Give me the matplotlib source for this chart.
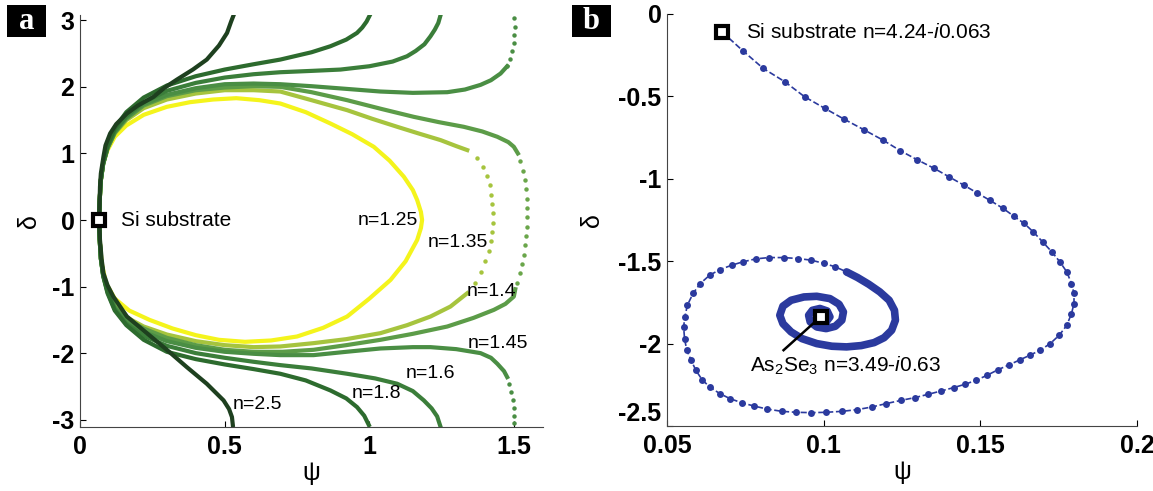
import matplotlib.pyplot as plt
from matplotlib.patches import Rectangle

plt.rcParams['font.family'] = ['Liberation Sans', 'DejaVu Sans']
plt.rcParams['mathtext.fontset'] = 'custom'
plt.rcParams['mathtext.rm'] = 'Liberation Sans'
plt.rcParams['mathtext.it'] = 'Liberation Sans:italic'
plt.rcParams['axes.unicode_minus'] = False

# ---- panel a: psi/delta trajectories for film index n ----
n125_psi = [0.066, 0.068, 0.072, 0.080, 0.095, 0.120, 0.160, 0.220, 0.300, 0.380, 0.460,
            0.540, 0.620, 0.692, 0.780, 0.865, 0.940, 1.015, 1.070, 1.119, 1.150, 1.165,
            1.178, 1.182, 1.178, 1.165, 1.125, 1.073, 1.000, 0.923, 0.840, 0.750, 0.660,
            0.570, 0.480, 0.400, 0.320, 0.240, 0.170, 0.120, 0.090, 0.075, 0.068, 0.066]
n125_delta = [0.0, 0.30, 0.60, 0.85, 1.05, 1.25, 1.42, 1.58, 1.70, 1.77, 1.81,
              1.83, 1.80, 1.75, 1.62, 1.45, 1.29, 1.10, 0.89, 0.65, 0.45, 0.30,
              0.12, 0.0, -0.12, -0.30, -0.62, -0.90, -1.18, -1.45, -1.62, -1.75, -1.81,
              -1.83, -1.80, -1.73, -1.63, -1.50, -1.36, -1.18, -0.95, -0.65, -0.30, 0.0]

n135_psi = [0.066, 0.068, 0.072, 0.080, 0.095, 0.120, 0.160, 0.220, 0.300, 0.400, 0.500,
            0.600, 0.692, 0.800, 0.923, 1.010, 1.096, 1.170, 1.246, 1.300, 1.338]
n135_delta = [0.0, 0.30, 0.60, 0.85, 1.08, 1.30, 1.50, 1.68, 1.81, 1.90, 1.95,
              1.95, 1.93, 1.80, 1.65, 1.52, 1.40, 1.30, 1.20, 1.11, 1.05]
n135_dots_psi = [1.373, 1.393, 1.405, 1.415, 1.421, 1.425, 1.427, 1.427, 1.425, 1.420,
                 1.412, 1.400, 1.385, 1.365]
n135_dots_delta = [0.93, 0.80, 0.66, 0.52, 0.38, 0.24, 0.10, -0.04, -0.18, -0.32,
                   -0.46, -0.62, -0.78, -0.94]
n135_low_psi = [1.338, 1.280, 1.211, 1.130, 1.038, 0.920, 0.807, 0.692, 0.600, 0.500,
                0.400, 0.300, 0.220, 0.160, 0.120, 0.095, 0.080, 0.072, 0.068, 0.066]
n135_low_delta = [-1.10, -1.30, -1.45, -1.58, -1.70, -1.79, -1.85, -1.90, -1.91, -1.88,
                  -1.82, -1.72, -1.60, -1.46, -1.28, -1.05, -0.82, -0.58, -0.30, 0.0]

n140_psi = [0.066, 0.068, 0.072, 0.080, 0.095, 0.120, 0.160, 0.220, 0.300, 0.400, 0.500,
            0.600, 0.692, 0.800, 0.923, 1.040, 1.153, 1.240, 1.326, 1.390, 1.442, 1.480,
            1.499, 1.513]
n140_delta = [0.0, 0.30, 0.60, 0.85, 1.08, 1.31, 1.52, 1.72, 1.86, 1.95, 1.99,
              2.01, 2.00, 1.92, 1.80, 1.67, 1.55, 1.47, 1.40, 1.33, 1.25, 1.17,
              1.10, 1.00]
n140_dots_psi = [1.522, 1.530, 1.536, 1.540, 1.543, 1.544, 1.545, 1.544, 1.542, 1.538,
                 1.533, 1.527, 1.519, 1.510]
n140_dots_delta = [0.88, 0.74, 0.60, 0.46, 0.32, 0.18, 0.04, -0.10, -0.24, -0.38,
                   -0.52, -0.66, -0.80, -0.94]
n140_low_psi = [1.504, 1.499, 1.470, 1.430, 1.360, 1.269, 1.150, 1.038, 0.920, 0.807,
                0.700, 0.600, 0.500, 0.400, 0.300, 0.220, 0.160, 0.120, 0.095, 0.080,
                0.072, 0.068, 0.066]
n140_low_delta = [-1.04, -1.15, -1.26, -1.35, -1.47, -1.60, -1.71, -1.80, -1.88, -1.95,
                  -1.98, -1.98, -1.95, -1.88, -1.77, -1.63, -1.48, -1.30, -1.06, -0.82,
                  -0.58, -0.30, 0.0]

n145_dots_top_psi = [1.499, 1.502, 1.501, 1.498, 1.493, 1.486, 1.476]
n145_dots_top_delta = [3.03, 2.90, 2.78, 2.66, 2.54, 2.42, 2.31]
n145_psi = [1.476, 1.453, 1.420, 1.384, 1.330, 1.269, 1.150, 1.038, 0.920, 0.800, 0.692,
            0.600, 0.500, 0.400, 0.300, 0.220, 0.160, 0.120, 0.095, 0.080, 0.072, 0.068,
            0.066, 0.068, 0.072, 0.080, 0.095, 0.120, 0.160, 0.220, 0.300, 0.400, 0.500,
            0.600, 0.692, 0.807, 0.920, 1.038, 1.150, 1.211, 1.300, 1.384, 1.420, 1.442,
            1.465, 1.476]
n145_delta = [2.31, 2.20, 2.10, 2.03, 1.96, 1.92, 1.91, 1.93, 1.97, 2.01, 2.04,
              2.05, 2.04, 1.98, 1.88, 1.74, 1.54, 1.32, 1.08, 0.84, 0.60, 0.30,
              0.0, -0.30, -0.58, -0.82, -1.06, -1.32, -1.52, -1.68, -1.82, -1.92, -1.98,
              -2.01, -2.03, -2.03, -1.98, -1.93, -1.91, -1.91, -1.94, -2.00, -2.07, -2.16,
              -2.27, -2.36]
n145_dots_bot_psi = [1.484, 1.490, 1.495, 1.498, 1.499, 1.500]
n145_dots_bot_delta = [-2.46, -2.58, -2.70, -2.82, -2.94, -3.05]

n160_psi = [1.246, 1.238, 1.226, 1.211, 1.190, 1.160, 1.130, 1.080, 1.000, 0.900, 0.800,
            0.692, 0.600, 0.500, 0.400, 0.300, 0.220, 0.160, 0.120, 0.095, 0.080, 0.072,
            0.068, 0.066, 0.068, 0.072, 0.080, 0.095, 0.120, 0.160, 0.220, 0.300, 0.400,
            0.500, 0.600, 0.692, 0.800, 0.923, 1.020, 1.096, 1.150, 1.188, 1.215, 1.234,
            1.246]
n160_delta = [3.08, 2.96, 2.86, 2.76, 2.64, 2.54, 2.46, 2.38, 2.31, 2.26, 2.24,
              2.22, 2.19, 2.14, 2.06, 1.94, 1.77, 1.56, 1.34, 1.09, 0.84, 0.60,
              0.30, 0.0, -0.30, -0.58, -0.84, -1.08, -1.34, -1.56, -1.74, -1.89, -2.00,
              -2.07, -2.13, -2.18, -2.23, -2.31, -2.38, -2.46, -2.57, -2.71, -2.83, -2.95,
              -3.11]

n180_psi = [1.003, 0.990, 0.975, 0.957, 0.920, 0.865, 0.800, 0.692, 0.600, 0.500, 0.400,
            0.300, 0.220, 0.160, 0.120, 0.095, 0.080, 0.072, 0.068, 0.066, 0.068, 0.072,
            0.080, 0.095, 0.120, 0.160, 0.220, 0.300, 0.400, 0.500, 0.600, 0.692, 0.780,
            0.865, 0.920, 0.957, 0.982, 0.998]
n180_delta = [3.09, 2.98, 2.89, 2.81, 2.71, 2.61, 2.52, 2.41, 2.34, 2.26, 2.16,
              2.02, 1.84, 1.62, 1.38, 1.12, 0.86, 0.60, 0.30, 0.0, -0.30, -0.58,
              -0.84, -1.10, -1.36, -1.58, -1.80, -1.98, -2.09, -2.17, -2.24, -2.31, -2.41,
              -2.56, -2.68, -2.81, -2.94, -3.08]

n250_psi = [0.531, 0.522, 0.508, 0.480, 0.438, 0.390, 0.335, 0.290, 0.254, 0.200, 0.162,
            0.125, 0.104, 0.088, 0.081, 0.072, 0.069, 0.066, 0.069, 0.075, 0.081, 0.095,
            0.115, 0.162, 0.231, 0.300, 0.369, 0.438, 0.496, 0.515, 0.525, 0.528]
n250_delta = [3.08, 2.98, 2.81, 2.62, 2.41, 2.26, 2.11, 1.98, 1.85, 1.72, 1.60,
              1.44, 1.30, 1.12, 0.95, 0.70, 0.50, 0.0, -0.30, -0.60, -0.80, -0.98,
              -1.15, -1.45, -1.70, -1.95, -2.21, -2.46, -2.71, -2.84, -2.96, -3.08]

si_a = (0.067, 0.0)
labels_a = ["n=1.25", "n=1.35", "n=1.4", "n=1.45", "n=1.6", "n=1.8", "n=2.5"]
labels_a_pos = [(0.958, 0.0), (1.201, -0.34), (1.335, -1.08), (1.338, -1.86),
                (1.124, -2.31), (0.939, -2.61), (0.529, -2.77)]

# ---- panel b: As2Se3 on Si spiral ----
spiral_out_psi = [0.0677, 0.0742, 0.0807, 0.0876, 0.0939, 0.1004, 0.1065, 0.1130, 0.1189,
                  0.1245, 0.1297, 0.1353, 0.1400, 0.1447, 0.1489, 0.1530, 0.1573, 0.1607,
                  0.1640, 0.1669, 0.1699, 0.1728, 0.1754, 0.1776, 0.1791, 0.1799, 0.1799,
                  0.1791, 0.1776, 0.1752, 0.1723, 0.1691, 0.1658, 0.1628, 0.1593, 0.1557,
                  0.1522, 0.1486, 0.1451, 0.1415, 0.1374, 0.1333, 0.1291, 0.1248, 0.1200,
                  0.1153, 0.1106, 0.1059, 0.1008, 0.0961, 0.0913, 0.0866, 0.0819, 0.0778,
                  0.0740, 0.0701, 0.0669, 0.0636, 0.0612, 0.0592, 0.0577, 0.0563, 0.0556,
                  0.0553, 0.0557, 0.0565, 0.0583, 0.0606, 0.0636, 0.0669, 0.0707, 0.0742,
                  0.0783, 0.0825, 0.0872, 0.0919, 0.0961, 0.1002, 0.1037, 0.1073]
spiral_out_delta = [-0.111, -0.223, -0.330, -0.411, -0.502, -0.573, -0.638, -0.704, -0.765,
                    -0.830, -0.883, -0.937, -0.988, -1.038, -1.085, -1.130, -1.180, -1.227,
                    -1.271, -1.322, -1.383, -1.443, -1.504, -1.565, -1.636, -1.696, -1.757,
                    -1.818, -1.889, -1.949, -2.000, -2.040, -2.071, -2.097, -2.128, -2.158,
                    -2.192, -2.223, -2.247, -2.267, -2.288, -2.308, -2.328, -2.344, -2.364,
                    -2.385, -2.401, -2.411, -2.417, -2.419, -2.417, -2.411, -2.397, -2.379,
                    -2.360, -2.334, -2.304, -2.263, -2.219, -2.162, -2.101, -2.040, -1.970,
                    -1.899, -1.838, -1.767, -1.696, -1.636, -1.585, -1.551, -1.524, -1.504,
                    -1.486, -1.478, -1.478, -1.484, -1.494, -1.514, -1.534, -1.565]
spiral_in_psi = [0.1073, 0.1108, 0.1144, 0.1179, 0.1209, 0.1226, 0.1229, 0.1217, 0.1193,
                 0.1161, 0.1120, 0.1073, 0.1026, 0.0978, 0.0931, 0.0896, 0.0870, 0.0860,
                 0.0870, 0.0896, 0.0937, 0.0978, 0.1020, 0.1049, 0.1063, 0.1058, 0.1037,
                 0.1008, 0.0978, 0.0957, 0.0952, 0.0964, 0.0988, 0.1011, 0.1020, 0.1008,
                 0.0988, 0.0978, 0.0990]
spiral_in_delta = [-1.565, -1.599, -1.640, -1.686, -1.737, -1.798, -1.858, -1.919, -1.964,
                   -1.994, -2.012, -2.020, -2.016, -2.000, -1.970, -1.929, -1.879, -1.828,
                   -1.773, -1.737, -1.717, -1.713, -1.727, -1.761, -1.808, -1.858, -1.895,
                   -1.909, -1.899, -1.868, -1.828, -1.798, -1.787, -1.802, -1.838, -1.868,
                   -1.868, -1.842, -1.838]
si_b = (0.0677, -0.111)
as2se3_b = (0.0990, -1.838)
leader_end_b = (0.0872, -2.04)

fig = plt.figure(figsize=(11.53, 4.91), dpi=100)
ax1 = fig.add_axes([0.0694, 0.1303, 0.4016, 0.8392])
ax2 = fig.add_axes([0.5785, 0.1324, 0.4076, 0.8391])

c125, c135, c140 = '#f4f41c', '#a6c43e', '#5c9c48'
c145, c160, c180, c250 = '#4a8e44', '#3b7e3a', '#2d6b2e', '#1e401f'
lw = 3.0
dot = dict(ls='none', marker='o', ms=3.2, mew=0)

ax1.plot(n125_psi, n125_delta, color=c125, lw=lw)
ax1.plot(n135_psi, n135_delta, color=c135, lw=lw)
ax1.plot(n135_dots_psi, n135_dots_delta, color=c135, **dot)
ax1.plot(n135_low_psi, n135_low_delta, color=c135, lw=lw)
ax1.plot(n140_psi, n140_delta, color=c140, lw=lw)
ax1.plot(n140_dots_psi, n140_dots_delta, color='#6aa64a', **dot)
ax1.plot(n140_low_psi, n140_low_delta, color=c140, lw=lw)
ax1.plot(n145_psi, n145_delta, color=c145, lw=lw)
ax1.plot(n145_dots_top_psi, n145_dots_top_delta, color=c145, **dot)
ax1.plot(n145_dots_bot_psi, n145_dots_bot_delta, color=c145, **dot)
ax1.plot(n160_psi, n160_delta, color=c160, lw=lw)
ax1.plot(n180_psi, n180_delta, color=c180, lw=lw)
ax1.plot(n250_psi, n250_delta, color=c250, lw=lw)

ax1.plot(*si_a, marker='s', ms=9, mfc='white', mec='black', mew=3)
ax1.text(0.141, 0.0, "Si substrate", fontsize=15, va='center', ha='left')
for lab, (x, y) in zip(labels_a, labels_a_pos):
    ax1.text(x, y, lab, fontsize=14, va='center', ha='left')

ax1.set_xlim(0, 1.6)
ax1.set_ylim(-3.11, 3.08)
ax1.set_xticks([0, 0.5, 1, 1.5])
ax1.set_xticklabels(['0', '0.5', '1', '1.5'])
ax1.set_yticks([-3, -2, -1, 0, 1, 2, 3])
ax1.set_xlabel('ψ', fontsize=18, labelpad=1)
ax1.set_ylabel('δ', fontsize=18, labelpad=8)

ax2.plot(spiral_out_psi, spiral_out_delta, color='#2b3a9e', lw=1.2, ls='--',
         marker='o', ms=5, mew=0)
ax2.plot(spiral_in_psi, spiral_in_delta, color='#2b3a9e', lw=5.5, solid_capstyle='round')
ax2.plot([as2se3_b[0], leader_end_b[0]], [as2se3_b[1], leader_end_b[1]],
         color='black', lw=1.8)
ax2.plot(*si_b, marker='s', ms=9, mfc='white', mec='black', mew=3)
ax2.plot(*as2se3_b, marker='s', ms=9, mfc='white', mec='black', mew=3)
ax2.text(0.0752, -0.111, r'Si substrate n=4.24-$i$0.063', fontsize=15, va='center', ha='left')
ax2.text(0.0766, -2.135, r'As$_2$Se$_3$ n=3.49-$i$0.63', fontsize=15, va='center', ha='left')

ax2.set_xlim(0.05, 0.2)
ax2.set_ylim(-2.5, 0)
ax2.set_xticks([0.05, 0.1, 0.15, 0.2])
ax2.set_xticklabels(['0.05', '0.1', '0.15', '0.2'])
ax2.set_yticks([-2.5, -2, -1.5, -1, -0.5, 0])
ax2.set_yticklabels(['-2.5', '-2', '-1.5', '-1', '-0.5', '0'])
ax2.set_xlabel('ψ', fontsize=18, labelpad=1)
ax2.set_ylabel('δ', fontsize=18, labelpad=10)

for ax in (ax1, ax2):
    ax.spines['top'].set_visible(False)
    ax.spines['right'].set_visible(False)
    ax.spines['left'].set_color('#444444')
    ax.spines['bottom'].set_color('#444444')
    ax.tick_params(direction='in', length=4, width=0.8, labelsize=18)
    ax.tick_params(axis='y', pad=4)
    ax.tick_params(axis='x', pad=6)
    for t in ax.get_xticklabels() + ax.get_yticklabels():
        t.set_fontweight('bold')

# the corner label sits a little higher so it clears the first x tick label
ax2.get_yticklabels()[0].set_va('bottom')

# panel letters in black boxes
for x0, letter in [(0.0061, 'a'), (0.4961, 'b')]:
    fig.patches.append(Rectangle((x0, 0.9246), 0.0335, 0.0652, transform=fig.transFigure,
                                 facecolor='black', edgecolor='none'))
    fig.text(x0 + 0.0168, 0.9572, letter, fontsize=22, fontweight='bold',
             family='Liberation Serif', color='white', ha='center', va='center')

fig.savefig('out.png', dpi=100)
